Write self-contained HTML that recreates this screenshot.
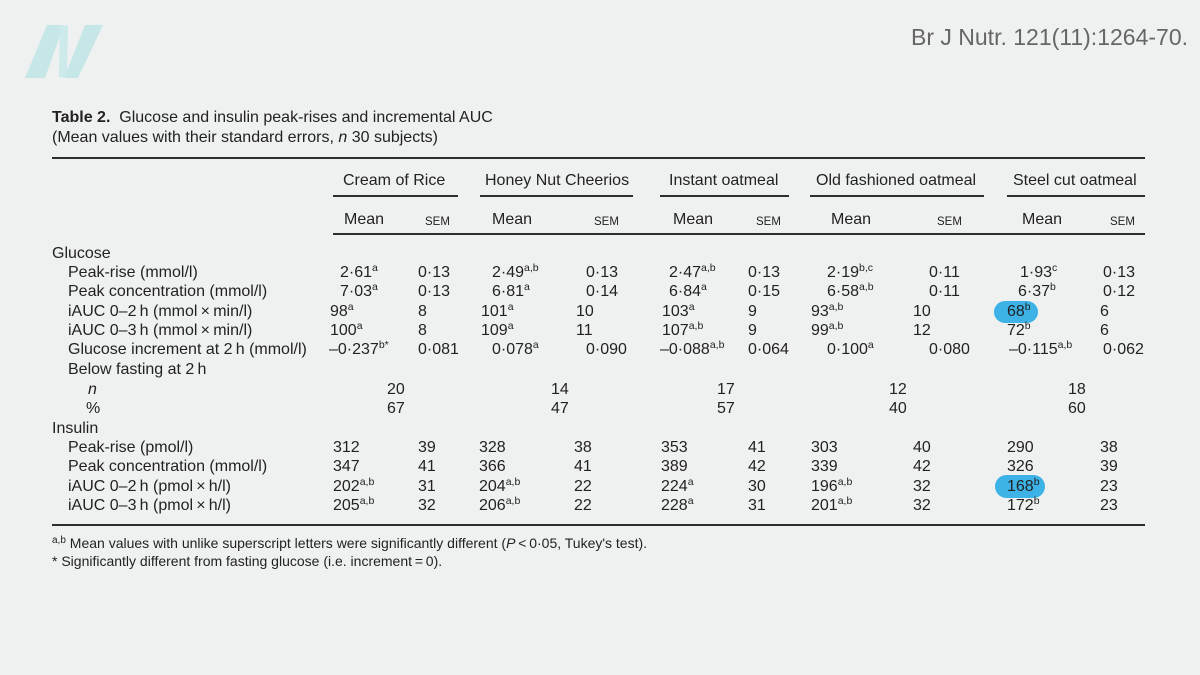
<!DOCTYPE html>
<html>
<head>
<meta charset="utf-8">
<style>
html,body{margin:0;padding:0;}
body{width:1200px;height:675px;background:#eff1f0;position:relative;overflow:hidden;font-family:"Liberation Sans",Arial,sans-serif;color:#222;}
.t{position:absolute;height:20px;line-height:20px;white-space:nowrap;font-size:16px;}
.f{position:absolute;height:20px;line-height:20px;white-space:nowrap;font-size:14px;}
.s{position:absolute;height:20px;line-height:20px;white-space:nowrap;font-size:11.5px;}
sup{font-size:10.5px;vertical-align:0;position:relative;top:-6px;line-height:0;}
.r{position:absolute;background:#2e2e2e;height:1.6px;}
.hl{position:absolute;background:#3cb2e6;}
.cite{position:absolute;right:12px;top:23px;height:28px;line-height:28px;font-size:23px;color:#666;white-space:nowrap;}
</style>
</head>
<body>
<svg style="position:absolute;left:0;top:0" width="120" height="100">
<polygon points="47,25 64,25 45,78 25,78" fill="#c6e7e7"/>
<polygon points="60,26 68,25 67,78 59,77" fill="#cdeaea"/>
<polygon points="85,25 103,25 78,78 64,78" fill="#c6e7e7"/>
</svg>
<div class="cite">Br J Nutr. 121(11):1264-70.</div>

<div class="t" style="left:52px;top:108px;"><b>Table 2.</b>&nbsp; Glucose and insulin peak-rises and incremental AUC</div>
<div class="t" style="left:52px;top:128px;">(Mean values with their standard errors, <i>n</i> 30 subjects)</div>

<div class="r" style="left:52px;width:1093px;top:157px;"></div>

<div class="t" style="left:343px;top:171px;">Cream of Rice</div>
<div class="t" style="left:485px;top:171px;">Honey Nut Cheerios</div>
<div class="t" style="left:669px;top:171px;">Instant oatmeal</div>
<div class="t" style="left:816px;top:171px;">Old fashioned oatmeal</div>
<div class="t" style="left:1013px;top:171px;">Steel cut oatmeal</div>

<div class="r" style="left:333px;width:125px;top:195px;"></div>
<div class="r" style="left:480px;width:153px;top:195px;"></div>
<div class="r" style="left:660px;width:129px;top:195px;"></div>
<div class="r" style="left:810px;width:174px;top:195px;"></div>
<div class="r" style="left:1007px;width:138px;top:195px;"></div>

<div class="t" style="left:344px;top:210px;">Mean</div><div class="s" style="left:425px;top:211.5px;">SEM</div>
<div class="t" style="left:492px;top:210px;">Mean</div><div class="s" style="left:594px;top:211.5px;">SEM</div>
<div class="t" style="left:673px;top:210px;">Mean</div><div class="s" style="left:756px;top:211.5px;">SEM</div>
<div class="t" style="left:831px;top:210px;">Mean</div><div class="s" style="left:937px;top:211.5px;">SEM</div>
<div class="t" style="left:1022px;top:210px;">Mean</div><div class="s" style="left:1110px;top:211.5px;">SEM</div>

<div class="r" style="left:333px;width:812px;top:233px;"></div>

<!-- highlights -->
<div class="hl" style="left:994px;top:301px;width:44px;height:22px;border-radius:11px;"></div>
<div class="hl" style="left:995px;top:475px;width:50px;height:23px;border-radius:12px;"></div>

<!-- labels -->
<div class="t" style="left:52px;top:244px;">Glucose</div>
<div class="t" style="left:68px;top:263px;">Peak-rise (mmol/l)</div>
<div class="t" style="left:68px;top:282px;">Peak concentration (mmol/l)</div>
<div class="t" style="left:68px;top:302px;">iAUC 0–2&#8201;h (mmol&#8201;×&#8201;min/l)</div>
<div class="t" style="left:68px;top:321px;">iAUC 0–3&#8201;h (mmol&#8201;×&#8201;min/l)</div>
<div class="t" style="left:68px;top:340px;">Glucose increment at 2&#8201;h (mmol/l)</div>
<div class="t" style="left:68px;top:360px;">Below fasting at 2&#8201;h</div>
<div class="t" style="left:88px;top:380px;"><i>n</i></div>
<div class="t" style="left:86px;top:399px;">%</div>
<div class="t" style="left:52px;top:419px;">Insulin</div>
<div class="t" style="left:68px;top:438px;">Peak-rise (pmol/l)</div>
<div class="t" style="left:68px;top:457px;">Peak concentration (mmol/l)</div>
<div class="t" style="left:68px;top:477px;">iAUC 0–2&#8201;h (pmol&#8201;×&#8201;h/l)</div>
<div class="t" style="left:68px;top:496px;">iAUC 0–3&#8201;h (pmol&#8201;×&#8201;h/l)</div>

<!-- Cream of Rice glucose -->
<div class="t" style="left:340px;top:263px;">2·61<sup>a</sup></div>
<div class="t" style="left:340px;top:282px;">7·03<sup>a</sup></div>
<div class="t" style="left:330px;top:302px;">98<sup>a</sup></div>
<div class="t" style="left:330px;top:321px;">100<sup>a</sup></div>
<div class="t" style="left:329px;top:340px;">–0·237<sup>b*</sup></div>
<div class="t" style="left:418px;top:263px;">0·13</div>
<div class="t" style="left:418px;top:282px;">0·13</div>
<div class="t" style="left:418px;top:302px;">8</div>
<div class="t" style="left:418px;top:321px;">8</div>
<div class="t" style="left:418px;top:340px;">0·081</div>

<!-- Honey -->
<div class="t" style="left:492px;top:263px;">2·49<sup>a,b</sup></div>
<div class="t" style="left:492px;top:282px;">6·81<sup>a</sup></div>
<div class="t" style="left:481px;top:302px;">101<sup>a</sup></div>
<div class="t" style="left:481px;top:321px;">109<sup>a</sup></div>
<div class="t" style="left:492px;top:340px;">0·078<sup>a</sup></div>
<div class="t" style="left:586px;top:263px;">0·13</div>
<div class="t" style="left:586px;top:282px;">0·14</div>
<div class="t" style="left:576px;top:302px;">10</div>
<div class="t" style="left:576px;top:321px;">11</div>
<div class="t" style="left:586px;top:340px;">0·090</div>

<!-- Instant -->
<div class="t" style="left:669px;top:263px;">2·47<sup>a,b</sup></div>
<div class="t" style="left:669px;top:282px;">6·84<sup>a</sup></div>
<div class="t" style="left:662px;top:302px;">103<sup>a</sup></div>
<div class="t" style="left:662px;top:321px;">107<sup>a,b</sup></div>
<div class="t" style="left:660px;top:340px;">–0·088<sup>a,b</sup></div>
<div class="t" style="left:748px;top:263px;">0·13</div>
<div class="t" style="left:748px;top:282px;">0·15</div>
<div class="t" style="left:748px;top:302px;">9</div>
<div class="t" style="left:748px;top:321px;">9</div>
<div class="t" style="left:748px;top:340px;">0·064</div>

<!-- Old fashioned -->
<div class="t" style="left:827px;top:263px;">2·19<sup>b,c</sup></div>
<div class="t" style="left:827px;top:282px;">6·58<sup>a,b</sup></div>
<div class="t" style="left:811px;top:302px;">93<sup>a,b</sup></div>
<div class="t" style="left:811px;top:321px;">99<sup>a,b</sup></div>
<div class="t" style="left:827px;top:340px;">0·100<sup>a</sup></div>
<div class="t" style="left:929px;top:263px;">0·11</div>
<div class="t" style="left:929px;top:282px;">0·11</div>
<div class="t" style="left:913px;top:302px;">10</div>
<div class="t" style="left:913px;top:321px;">12</div>
<div class="t" style="left:929px;top:340px;">0·080</div>

<!-- Steel cut -->
<div class="t" style="left:1020px;top:263px;">1·93<sup>c</sup></div>
<div class="t" style="left:1018px;top:282px;">6·37<sup>b</sup></div>
<div class="t" style="left:1007px;top:302px;">68<sup>b</sup></div>
<div class="t" style="left:1007px;top:321px;">72<sup>b</sup></div>
<div class="t" style="left:1009px;top:340px;">–0·115<sup>a,b</sup></div>
<div class="t" style="left:1103px;top:263px;">0·13</div>
<div class="t" style="left:1103px;top:282px;">0·12</div>
<div class="t" style="left:1100px;top:302px;">6</div>
<div class="t" style="left:1100px;top:321px;">6</div>
<div class="t" style="left:1103px;top:340px;">0·062</div>

<!-- n / % -->
<div class="t" style="left:387px;top:380px;">20</div>
<div class="t" style="left:551px;top:380px;">14</div>
<div class="t" style="left:717px;top:380px;">17</div>
<div class="t" style="left:889px;top:380px;">12</div>
<div class="t" style="left:1068px;top:380px;">18</div>
<div class="t" style="left:387px;top:399px;">67</div>
<div class="t" style="left:551px;top:399px;">47</div>
<div class="t" style="left:717px;top:399px;">57</div>
<div class="t" style="left:889px;top:399px;">40</div>
<div class="t" style="left:1068px;top:399px;">60</div>

<!-- Insulin -->
<div class="t" style="left:333px;top:438px;">312</div>
<div class="t" style="left:333px;top:457px;">347</div>
<div class="t" style="left:333px;top:477px;">202<sup>a,b</sup></div>
<div class="t" style="left:333px;top:496px;">205<sup>a,b</sup></div>
<div class="t" style="left:418px;top:438px;">39</div>
<div class="t" style="left:418px;top:457px;">41</div>
<div class="t" style="left:418px;top:477px;">31</div>
<div class="t" style="left:418px;top:496px;">32</div>

<div class="t" style="left:479px;top:438px;">328</div>
<div class="t" style="left:479px;top:457px;">366</div>
<div class="t" style="left:479px;top:477px;">204<sup>a,b</sup></div>
<div class="t" style="left:479px;top:496px;">206<sup>a,b</sup></div>
<div class="t" style="left:574px;top:438px;">38</div>
<div class="t" style="left:574px;top:457px;">41</div>
<div class="t" style="left:574px;top:477px;">22</div>
<div class="t" style="left:574px;top:496px;">22</div>

<div class="t" style="left:661px;top:438px;">353</div>
<div class="t" style="left:661px;top:457px;">389</div>
<div class="t" style="left:661px;top:477px;">224<sup>a</sup></div>
<div class="t" style="left:661px;top:496px;">228<sup>a</sup></div>
<div class="t" style="left:748px;top:438px;">41</div>
<div class="t" style="left:748px;top:457px;">42</div>
<div class="t" style="left:748px;top:477px;">30</div>
<div class="t" style="left:748px;top:496px;">31</div>

<div class="t" style="left:811px;top:438px;">303</div>
<div class="t" style="left:811px;top:457px;">339</div>
<div class="t" style="left:811px;top:477px;">196<sup>a,b</sup></div>
<div class="t" style="left:811px;top:496px;">201<sup>a,b</sup></div>
<div class="t" style="left:913px;top:438px;">40</div>
<div class="t" style="left:913px;top:457px;">42</div>
<div class="t" style="left:913px;top:477px;">32</div>
<div class="t" style="left:913px;top:496px;">32</div>

<div class="t" style="left:1007px;top:438px;">290</div>
<div class="t" style="left:1007px;top:457px;">326</div>
<div class="t" style="left:1007px;top:477px;">168<sup>b</sup></div>
<div class="t" style="left:1007px;top:496px;">172<sup>b</sup></div>
<div class="t" style="left:1100px;top:438px;">38</div>
<div class="t" style="left:1100px;top:457px;">39</div>
<div class="t" style="left:1100px;top:477px;">23</div>
<div class="t" style="left:1100px;top:496px;">23</div>

<div class="r" style="left:52px;width:1093px;top:524px;"></div>

<div class="f" style="left:52px;top:533px;"><sup style="font-size:10px;top:-5px;">a,b</sup> Mean values with unlike superscript letters were significantly different (<i>P</i>&#8201;&lt;&#8201;0·05, Tukey's test).</div>
<div class="f" style="left:52px;top:551px;">* Significantly different from fasting glucose (i.e. increment&#8201;=&#8201;0).</div>
</body>
</html>
